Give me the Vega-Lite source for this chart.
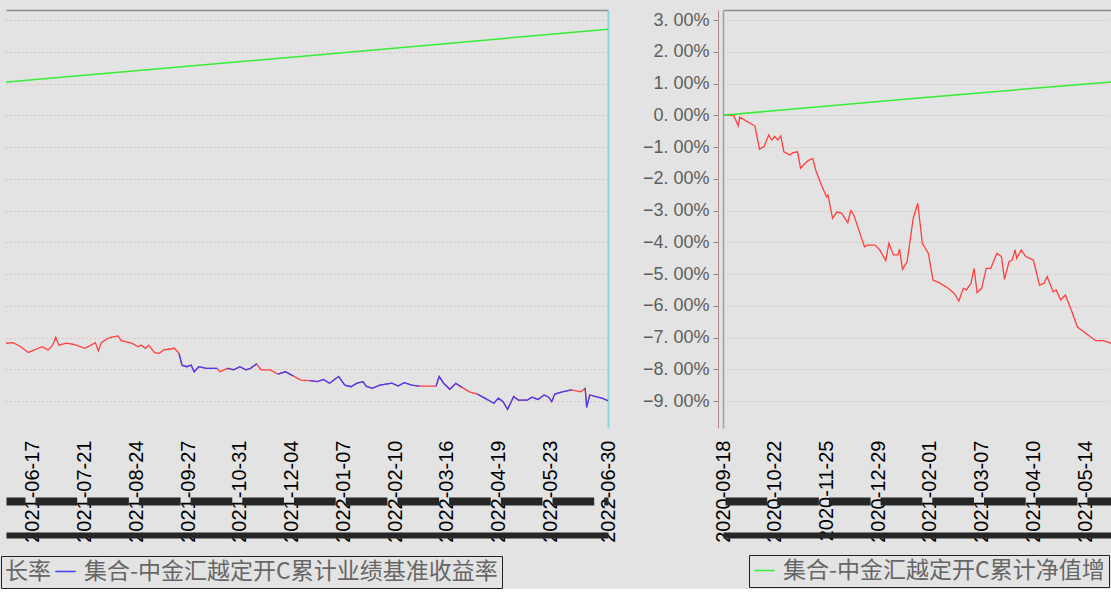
{
  "$schema": "https://vega.github.io/schema/vega-lite/v6.json",
  "background": "#e3e3e3",
  "padding": {"left": 0, "top": 10, "right": 0, "bottom": 0},
  "spacing": 115,
  "bounds": "flush",
  "config": {
    "view": {"stroke": null},
    "font": "Liberation Sans",
    "axis": {"gridColor": "#d3a6a6", "gridDash": [1, 3], "gridWidth": 1}
  },
  "data": {
    "values": [
      {"d": "2020-09-18", "s": "集合-中金汇越定开C累计净值增长率", "v": 0, "g": 0},
      {"d": "2021-01-21", "s": "集合-中金汇越定开C累计净值增长率", "v": 0.53, "g": 0},
      {"d": "2021-05-31", "s": "集合-中金汇越定开C累计净值增长率", "v": 1.05, "g": 0},
      {"d": "2021-12-21", "s": "集合-中金汇越定开C累计净值增长率", "v": 1.9, "g": 0},
      {"d": "2022-06-30", "s": "集合-中金汇越定开C累计净值增长率", "v": 2.71, "g": 0},

      {"d": "2020-09-18", "s": "集合-中金汇越定开C累计收益率", "v": 0, "g": 0},
      {"d": "2020-09-25", "s": "集合-中金汇越定开C累计收益率", "v": 0, "g": 0},
      {"d": "2020-09-28", "s": "集合-中金汇越定开C累计收益率", "v": -0.34, "g": 0},
      {"d": "2020-09-29", "s": "集合-中金汇越定开C累计收益率", "v": -0.06, "g": 0},
      {"d": "2020-10-09", "s": "集合-中金汇越定开C累计收益率", "v": -0.34, "g": 0},
      {"d": "2020-10-12", "s": "集合-中金汇越定开C累计收益率", "v": -1.07, "g": 0},
      {"d": "2020-10-15", "s": "集合-中金汇越定开C累计收益率", "v": -0.99, "g": 0},
      {"d": "2020-10-18", "s": "集合-中金汇越定开C累计收益率", "v": -0.62, "g": 0},
      {"d": "2020-10-20", "s": "集合-中金汇越定开C累计收益率", "v": -0.78, "g": 0},
      {"d": "2020-10-22", "s": "集合-中金汇越定开C累计收益率", "v": -0.67, "g": 0},
      {"d": "2020-10-24", "s": "集合-中金汇越定开C累计收益率", "v": -0.78, "g": 0},
      {"d": "2020-10-26", "s": "集合-中金汇越定开C累计收益率", "v": -0.65, "g": 0},
      {"d": "2020-10-28", "s": "集合-中金汇越定开C累计收益率", "v": -1.15, "g": 0},
      {"d": "2020-11-01", "s": "集合-中金汇越定开C累计收益率", "v": -1.25, "g": 0},
      {"d": "2020-11-03", "s": "集合-中金汇越定开C累计收益率", "v": -1.18, "g": 0},
      {"d": "2020-11-06", "s": "集合-中金汇越定开C累计收益率", "v": -1.15, "g": 0},
      {"d": "2020-11-08", "s": "集合-中金汇越定开C累计收益率", "v": -1.67, "g": 0},
      {"d": "2020-11-11", "s": "集合-中金汇越定开C累计收益率", "v": -1.51, "g": 0},
      {"d": "2020-11-13", "s": "集合-中金汇越定开C累计收益率", "v": -1.43, "g": 0},
      {"d": "2020-11-16", "s": "集合-中金汇越定开C累计收益率", "v": -1.36, "g": 0},
      {"d": "2020-11-18", "s": "集合-中金汇越定开C累计收益率", "v": -1.74, "g": 0},
      {"d": "2020-11-21", "s": "集合-中金汇越定开C累计收益率", "v": -2.12, "g": 0},
      {"d": "2020-11-25", "s": "集合-中金汇越定开C累计收益率", "v": -2.57, "g": 0},
      {"d": "2020-11-26", "s": "集合-中金汇越定开C累计收益率", "v": -2.51, "g": 0},
      {"d": "2020-11-29", "s": "集合-中金汇越定开C累计收益率", "v": -3.25, "g": 0},
      {"d": "2020-12-02", "s": "集合-中金汇越定开C累计收益率", "v": -3.04, "g": 0},
      {"d": "2020-12-05", "s": "集合-中金汇越定开C累计收益率", "v": -3.09, "g": 0},
      {"d": "2020-12-09", "s": "集合-中金汇越定开C累计收益率", "v": -3.38, "g": 0},
      {"d": "2020-12-11", "s": "集合-中金汇越定开C累计收益率", "v": -3.0, "g": 0},
      {"d": "2020-12-13", "s": "集合-中金汇越定开C累计收益率", "v": -3.14, "g": 0},
      {"d": "2020-12-17", "s": "集合-中金汇越定开C累计收益率", "v": -3.72, "g": 0},
      {"d": "2020-12-20", "s": "集合-中金汇越定开C累计收益率", "v": -4.14, "g": 0},
      {"d": "2020-12-22", "s": "集合-中金汇越定开C累计收益率", "v": -4.09, "g": 0},
      {"d": "2020-12-27", "s": "集合-中金汇越定开C累计收益率", "v": -4.09, "g": 0},
      {"d": "2020-12-30", "s": "集合-中金汇越定开C累计收益率", "v": -4.24, "g": 0},
      {"d": "2021-01-03", "s": "集合-中金汇越定开C累计收益率", "v": -4.58, "g": 0},
      {"d": "2021-01-05", "s": "集合-中金汇越定开C累计收益率", "v": -4.03, "g": 0},
      {"d": "2021-01-08", "s": "集合-中金汇越定开C累计收益率", "v": -4.4, "g": 0},
      {"d": "2021-01-11", "s": "集合-中金汇越定开C累计收益率", "v": -4.4, "g": 0},
      {"d": "2021-01-12", "s": "集合-中金汇越定开C累计收益率", "v": -4.22, "g": 0},
      {"d": "2021-01-14", "s": "集合-中金汇越定开C累计收益率", "v": -4.85, "g": 0},
      {"d": "2021-01-17", "s": "集合-中金汇越定开C累计收益率", "v": -4.61, "g": 0},
      {"d": "2021-01-21", "s": "集合-中金汇越定开C累计收益率", "v": -3.25, "g": 0},
      {"d": "2021-01-24", "s": "集合-中金汇越定开C累计收益率", "v": -2.77, "g": 0},
      {"d": "2021-01-27", "s": "集合-中金汇越定开C累计收益率", "v": -4.03, "g": 0},
      {"d": "2021-01-31", "s": "集合-中金汇越定开C累计收益率", "v": -4.35, "g": 0},
      {"d": "2021-02-03", "s": "集合-中金汇越定开C累计收益率", "v": -5.19, "g": 0},
      {"d": "2021-02-07", "s": "集合-中金汇越定开C累计收益率", "v": -5.27, "g": 0},
      {"d": "2021-02-13", "s": "集合-中金汇越定开C累计收益率", "v": -5.45, "g": 0},
      {"d": "2021-02-17", "s": "集合-中金汇越定开C累计收益率", "v": -5.61, "g": 0},
      {"d": "2021-02-20", "s": "集合-中金汇越定开C累计收益率", "v": -5.85, "g": 0},
      {"d": "2021-02-23", "s": "集合-中金汇越定开C累计收益率", "v": -5.45, "g": 0},
      {"d": "2021-02-25", "s": "集合-中金汇越定开C累计收益率", "v": -5.5, "g": 0},
      {"d": "2021-02-28", "s": "集合-中金汇越定开C累计收益率", "v": -5.29, "g": 0},
      {"d": "2021-03-02", "s": "集合-中金汇越定开C累计收益率", "v": -4.82, "g": 0},
      {"d": "2021-03-04", "s": "集合-中金汇越定开C累计收益率", "v": -5.59, "g": 0},
      {"d": "2021-03-07", "s": "集合-中金汇越定开C累计收益率", "v": -5.45, "g": 0},
      {"d": "2021-03-10", "s": "集合-中金汇越定开C累计收益率", "v": -4.82, "g": 0},
      {"d": "2021-03-13", "s": "集合-中金汇越定开C累计收益率", "v": -4.82, "g": 0},
      {"d": "2021-03-17", "s": "集合-中金汇越定开C累计收益率", "v": -4.35, "g": 0},
      {"d": "2021-03-20", "s": "集合-中金汇越定开C累计收益率", "v": -4.45, "g": 0},
      {"d": "2021-03-22", "s": "集合-中金汇越定开C累计收益率", "v": -5.17, "g": 0},
      {"d": "2021-03-25", "s": "集合-中金汇越定开C累计收益率", "v": -4.61, "g": 0},
      {"d": "2021-03-27", "s": "集合-中金汇越定开C累计收益率", "v": -4.56, "g": 0},
      {"d": "2021-03-29", "s": "集合-中金汇越定开C累计收益率", "v": -4.24, "g": 0},
      {"d": "2021-03-30", "s": "集合-中金汇越定开C累计收益率", "v": -4.51, "g": 0},
      {"d": "2021-04-02", "s": "集合-中金汇越定开C累计收益率", "v": -4.24, "g": 0},
      {"d": "2021-04-05", "s": "集合-中金汇越定开C累计收益率", "v": -4.45, "g": 0},
      {"d": "2021-04-10", "s": "集合-中金汇越定开C累计收益率", "v": -4.56, "g": 0},
      {"d": "2021-04-14", "s": "集合-中金汇越定开C累计收益率", "v": -5.35, "g": 0},
      {"d": "2021-04-17", "s": "集合-中金汇越定开C累计收益率", "v": -5.29, "g": 0},
      {"d": "2021-04-19", "s": "集合-中金汇越定开C累计收益率", "v": -5.08, "g": 0},
      {"d": "2021-04-23", "s": "集合-中金汇越定开C累计收益率", "v": -5.56, "g": 0},
      {"d": "2021-04-25", "s": "集合-中金汇越定开C累计收益率", "v": -5.5, "g": 0},
      {"d": "2021-04-27", "s": "集合-中金汇越定开C累计收益率", "v": -5.72, "g": 0},
      {"d": "2021-04-28", "s": "集合-中金汇越定开C累计收益率", "v": -5.82, "g": 0},
      {"d": "2021-05-01", "s": "集合-中金汇越定开C累计收益率", "v": -5.66, "g": 0},
      {"d": "2021-05-05", "s": "集合-中金汇越定开C累计收益率", "v": -6.15, "g": 0},
      {"d": "2021-05-09", "s": "集合-中金汇越定开C累计收益率", "v": -6.67, "g": 0},
      {"d": "2021-05-15", "s": "集合-中金汇越定开C累计收益率", "v": -6.89, "g": 0},
      {"d": "2021-05-21", "s": "集合-中金汇越定开C累计收益率", "v": -7.1, "g": 0},
      {"d": "2021-05-26", "s": "集合-中金汇越定开C累计收益率", "v": -7.1, "g": 0},
      {"d": "2021-05-31", "s": "集合-中金汇越定开C累计收益率", "v": -7.18, "g": 0},
      {"d": "2021-06-04", "s": "集合-中金汇越定开C累计收益率", "v": -7.16, "g": 0},
      {"d": "2021-06-09", "s": "集合-中金汇越定开C累计收益率", "v": -7.29, "g": 0},
      {"d": "2021-06-14", "s": "集合-中金汇越定开C累计收益率", "v": -7.47, "g": 0},
      {"d": "2021-06-18", "s": "集合-中金汇越定开C累计收益率", "v": -7.39, "g": 0},
      {"d": "2021-06-23", "s": "集合-中金汇越定开C累计收益率", "v": -7.29, "g": 0},
      {"d": "2021-06-27", "s": "集合-中金汇越定开C累计收益率", "v": -7.39, "g": 0},
      {"d": "2021-06-30", "s": "集合-中金汇越定开C累计收益率", "v": -7.24, "g": 0},
      {"d": "2021-07-02", "s": "集合-中金汇越定开C累计收益率", "v": -6.99, "g": 0},
      {"d": "2021-07-04", "s": "集合-中金汇越定开C累计收益率", "v": -7.24, "g": 0},
      {"d": "2021-07-09", "s": "集合-中金汇越定开C累计收益率", "v": -7.18, "g": 0},
      {"d": "2021-07-14", "s": "集合-中金汇越定开C累计收益率", "v": -7.22, "g": 0},
      {"d": "2021-07-21", "s": "集合-中金汇越定开C累计收益率", "v": -7.34, "g": 0},
      {"d": "2021-07-24", "s": "集合-中金汇越定开C累计收益率", "v": -7.27, "g": 0},
      {"d": "2021-07-28", "s": "集合-中金汇越定开C累计收益率", "v": -7.16, "g": 0},
      {"d": "2021-07-30", "s": "集合-中金汇越定开C累计收益率", "v": -7.42, "g": 0},
      {"d": "2021-08-01", "s": "集合-中金汇越定开C累计收益率", "v": -7.16, "g": 0},
      {"d": "2021-08-05", "s": "集合-中金汇越定开C累计收益率", "v": -7.03, "g": 0},
      {"d": "2021-08-08", "s": "集合-中金汇越定开C累计收益率", "v": -6.99, "g": 0},
      {"d": "2021-08-12", "s": "集合-中金汇越定开C累计收益率", "v": -6.95, "g": 0},
      {"d": "2021-08-14", "s": "集合-中金汇越定开C累计收益率", "v": -7.1, "g": 0},
      {"d": "2021-08-21", "s": "集合-中金汇越定开C累计收益率", "v": -7.18, "g": 0},
      {"d": "2021-08-25", "s": "集合-中金汇越定开C累计收益率", "v": -7.29, "g": 0},
      {"d": "2021-08-27", "s": "集合-中金汇越定开C累计收益率", "v": -7.24, "g": 0},
      {"d": "2021-08-30", "s": "集合-中金汇越定开C累计收益率", "v": -7.34, "g": 0},
      {"d": "2021-09-01", "s": "集合-中金汇越定开C累计收益率", "v": -7.24, "g": 0},
      {"d": "2021-09-05", "s": "集合-中金汇越定开C累计收益率", "v": -7.48, "g": 0},
      {"d": "2021-09-08", "s": "集合-中金汇越定开C累计收益率", "v": -7.5, "g": 0},
      {"d": "2021-09-11", "s": "集合-中金汇越定开C累计收益率", "v": -7.39, "g": 0},
      {"d": "2021-09-14", "s": "集合-中金汇越定开C累计收益率", "v": -7.37, "g": 0},
      {"d": "2021-09-18", "s": "集合-中金汇越定开C累计收益率", "v": -7.34, "g": 0},
      {"d": "2021-09-21", "s": "集合-中金汇越定开C累计收益率", "v": -7.5, "g": 0},
      {"d": "2021-09-23", "s": "集合-中金汇越定开C累计收益率", "v": -7.87, "g": 0},
      {"d": "2021-09-26", "s": "集合-中金汇越定开C累计收益率", "v": -7.92, "g": 0},
      {"d": "2021-09-29", "s": "集合-中金汇越定开C累计收益率", "v": -7.87, "g": 0},
      {"d": "2021-10-01", "s": "集合-中金汇越定开C累计收益率", "v": -8.08, "g": 0},
      {"d": "2021-10-04", "s": "集合-中金汇越定开C累计收益率", "v": -7.92, "g": 0},
      {"d": "2021-10-09", "s": "集合-中金汇越定开C累计收益率", "v": -7.97, "g": 0},
      {"d": "2021-10-16", "s": "集合-中金汇越定开C累计收益率", "v": -7.97, "g": 0},
      {"d": "2021-10-18", "s": "集合-中金汇越定开C累计收益率", "v": -8.08, "g": 0},
      {"d": "2021-10-23", "s": "集合-中金汇越定开C累计收益率", "v": -7.97, "g": 0},
      {"d": "2021-10-27", "s": "集合-中金汇越定开C累计收益率", "v": -8.02, "g": 0},
      {"d": "2021-10-31", "s": "集合-中金汇越定开C累计收益率", "v": -7.92, "g": 0},
      {"d": "2021-11-04", "s": "集合-中金汇越定开C累计收益率", "v": -8.02, "g": 0},
      {"d": "2021-11-07", "s": "集合-中金汇越定开C累计收益率", "v": -7.97, "g": 0},
      {"d": "2021-11-11", "s": "集合-中金汇越定开C累计收益率", "v": -7.83, "g": 0},
      {"d": "2021-11-14", "s": "集合-中金汇越定开C累计收益率", "v": -8.02, "g": 0},
      {"d": "2021-11-20", "s": "集合-中金汇越定开C累计收益率", "v": -8.02, "g": 0},
      {"d": "2021-11-25", "s": "集合-中金汇越定开C累计收益率", "v": -8.15, "g": 0},
      {"d": "2021-11-30", "s": "集合-中金汇越定开C累计收益率", "v": -8.08, "g": 0},
      {"d": "2021-12-05", "s": "集合-中金汇越定开C累计收益率", "v": -8.21, "g": 0},
      {"d": "2021-12-10", "s": "集合-中金汇越定开C累计收益率", "v": -8.34, "g": 0},
      {"d": "2021-12-16", "s": "集合-中金汇越定开C累计收益率", "v": -8.36, "g": 0},
      {"d": "2021-12-21", "s": "集合-中金汇越定开C累计收益率", "v": -8.39, "g": 0},
      {"d": "2021-12-25", "s": "集合-中金汇越定开C累计收益率", "v": -8.32, "g": 0},
      {"d": "2021-12-29", "s": "集合-中金汇越定开C累计收益率", "v": -8.44, "g": 0},
      {"d": "2022-01-02", "s": "集合-中金汇越定开C累计收益率", "v": -8.29, "g": 0},
      {"d": "2022-01-04", "s": "集合-中金汇越定开C累计收益率", "v": -8.23, "g": 0},
      {"d": "2022-01-08", "s": "集合-中金汇越定开C累计收益率", "v": -8.5, "g": 0},
      {"d": "2022-01-12", "s": "集合-中金汇越定开C累计收益率", "v": -8.55, "g": 0},
      {"d": "2022-01-16", "s": "集合-中金汇越定开C累计收益率", "v": -8.44, "g": 0},
      {"d": "2022-01-20", "s": "集合-中金汇越定开C累计收益率", "v": -8.39, "g": 0},
      {"d": "2022-01-22", "s": "集合-中金汇越定开C累计收益率", "v": -8.53, "g": 0},
      {"d": "2022-01-26", "s": "集合-中金汇越定开C累计收益率", "v": -8.6, "g": 0},
      {"d": "2022-01-31", "s": "集合-中金汇越定开C累计收益率", "v": -8.5, "g": 0},
      {"d": "2022-02-08", "s": "集合-中金汇越定开C累计收益率", "v": -8.44, "g": 0},
      {"d": "2022-02-12", "s": "集合-中金汇越定开C累计收益率", "v": -8.53, "g": 0},
      {"d": "2022-02-16", "s": "集合-中金汇越定开C累计收益率", "v": -8.42, "g": 0},
      {"d": "2022-02-21", "s": "集合-中金汇越定开C累计收益率", "v": -8.5, "g": 0},
      {"d": "2022-02-26", "s": "集合-中金汇越定开C累计收益率", "v": -8.53, "g": 0},
      {"d": "2022-03-04", "s": "集合-中金汇越定开C累计收益率", "v": -8.53, "g": 0},
      {"d": "2022-03-09", "s": "集合-中金汇越定开C累计收益率", "v": -8.53, "g": 0},
      {"d": "2022-03-11", "s": "集合-中金汇越定开C累计收益率", "v": -8.23, "g": 0},
      {"d": "2022-03-14", "s": "集合-中金汇越定开C累计收益率", "v": -8.44, "g": 0},
      {"d": "2022-03-18", "s": "集合-中金汇越定开C累计收益率", "v": -8.63, "g": 0},
      {"d": "2022-03-22", "s": "集合-中金汇越定开C累计收益率", "v": -8.44, "g": 0},
      {"d": "2022-03-26", "s": "集合-中金汇越定开C累计收益率", "v": -8.57, "g": 0},
      {"d": "2022-03-31", "s": "集合-中金汇越定开C累计收益率", "v": -8.71, "g": 0},
      {"d": "2022-04-05", "s": "集合-中金汇越定开C累计收益率", "v": -8.78, "g": 0},
      {"d": "2022-04-10", "s": "集合-中金汇越定开C累计收益率", "v": -8.91, "g": 0},
      {"d": "2022-04-16", "s": "集合-中金汇越定开C累计收益率", "v": -9.07, "g": 0},
      {"d": "2022-04-19", "s": "集合-中金汇越定开C累计收益率", "v": -8.91, "g": 0},
      {"d": "2022-04-22", "s": "集合-中金汇越定开C累计收益率", "v": -9.02, "g": 0},
      {"d": "2022-04-25", "s": "集合-中金汇越定开C累计收益率", "v": -9.26, "g": 0},
      {"d": "2022-04-29", "s": "集合-中金汇越定开C累计收益率", "v": -8.86, "g": 0},
      {"d": "2022-05-02", "s": "集合-中金汇越定开C累计收益率", "v": -8.97, "g": 0},
      {"d": "2022-05-08", "s": "集合-中金汇越定开C累计收益率", "v": -8.97, "g": 0},
      {"d": "2022-05-11", "s": "集合-中金汇越定开C累计收益率", "v": -8.88, "g": 0},
      {"d": "2022-05-15", "s": "集合-中金汇越定开C累计收益率", "v": -8.95, "g": 0},
      {"d": "2022-05-19", "s": "集合-中金汇越定开C累计收益率", "v": -8.81, "g": 0},
      {"d": "2022-05-22", "s": "集合-中金汇越定开C累计收益率", "v": -8.88, "g": 0},
      {"d": "2022-05-24", "s": "集合-中金汇越定开C累计收益率", "v": -9.02, "g": 0},
      {"d": "2022-05-26", "s": "集合-中金汇越定开C累计收益率", "v": -8.78, "g": 0},
      {"d": "2022-05-31", "s": "集合-中金汇越定开C累计收益率", "v": -8.71, "g": 0},
      {"d": "2022-06-06", "s": "集合-中金汇越定开C累计收益率", "v": -8.65, "g": 0},
      {"d": "2022-06-12", "s": "集合-中金汇越定开C累计收益率", "v": -8.71, "g": 0},
      {"d": "2022-06-15", "s": "集合-中金汇越定开C累计收益率", "v": -8.6, "g": 0},
      {"d": "2022-06-16", "s": "集合-中金汇越定开C累计收益率", "v": -9.2, "g": 0},
      {"d": "2022-06-18", "s": "集合-中金汇越定开C累计收益率", "v": -8.81, "g": 0},
      {"d": "2022-06-22", "s": "集合-中金汇越定开C累计收益率", "v": -8.86, "g": 0},
      {"d": "2022-06-26", "s": "集合-中金汇越定开C累计收益率", "v": -8.91, "g": 0},
      {"d": "2022-06-30", "s": "集合-中金汇越定开C累计收益率", "v": -8.99, "g": 0},

      {"d": "2021-09-21", "s": "集合-中金汇越定开C累计业绩基准收益率", "v": -7.5, "g": 1},
      {"d": "2021-09-23", "s": "集合-中金汇越定开C累计业绩基准收益率", "v": -7.87, "g": 1},
      {"d": "2021-09-26", "s": "集合-中金汇越定开C累计业绩基准收益率", "v": -7.92, "g": 1},
      {"d": "2021-09-29", "s": "集合-中金汇越定开C累计业绩基准收益率", "v": -7.87, "g": 1},
      {"d": "2021-10-01", "s": "集合-中金汇越定开C累计业绩基准收益率", "v": -8.08, "g": 1},
      {"d": "2021-10-04", "s": "集合-中金汇越定开C累计业绩基准收益率", "v": -7.92, "g": 1},
      {"d": "2021-10-09", "s": "集合-中金汇越定开C累计业绩基准收益率", "v": -7.97, "g": 1},
      {"d": "2021-10-16", "s": "集合-中金汇越定开C累计业绩基准收益率", "v": -7.97, "g": 1},
      {"d": "2021-10-23", "s": "集合-中金汇越定开C累计业绩基准收益率", "v": -7.97, "g": 2},
      {"d": "2021-10-27", "s": "集合-中金汇越定开C累计业绩基准收益率", "v": -8.02, "g": 2},
      {"d": "2021-10-31", "s": "集合-中金汇越定开C累计业绩基准收益率", "v": -7.92, "g": 2},
      {"d": "2021-11-04", "s": "集合-中金汇越定开C累计业绩基准收益率", "v": -8.02, "g": 2},
      {"d": "2021-11-07", "s": "集合-中金汇越定开C累计业绩基准收益率", "v": -7.97, "g": 2},
      {"d": "2021-11-11", "s": "集合-中金汇越定开C累计业绩基准收益率", "v": -7.83, "g": 2},
      {"d": "2021-11-25", "s": "集合-中金汇越定开C累计业绩基准收益率", "v": -8.15, "g": 3},
      {"d": "2021-11-30", "s": "集合-中金汇越定开C累计业绩基准收益率", "v": -8.08, "g": 3},
      {"d": "2021-12-05", "s": "集合-中金汇越定开C累计业绩基准收益率", "v": -8.21, "g": 3},
      {"d": "2021-12-16", "s": "集合-中金汇越定开C累计业绩基准收益率", "v": -8.36, "g": 4},
      {"d": "2021-12-21", "s": "集合-中金汇越定开C累计业绩基准收益率", "v": -8.39, "g": 4},
      {"d": "2021-12-25", "s": "集合-中金汇越定开C累计业绩基准收益率", "v": -8.32, "g": 4},
      {"d": "2021-12-29", "s": "集合-中金汇越定开C累计业绩基准收益率", "v": -8.44, "g": 4},
      {"d": "2022-01-02", "s": "集合-中金汇越定开C累计业绩基准收益率", "v": -8.29, "g": 4},
      {"d": "2022-01-04", "s": "集合-中金汇越定开C累计业绩基准收益率", "v": -8.23, "g": 4},
      {"d": "2022-01-08", "s": "集合-中金汇越定开C累计业绩基准收益率", "v": -8.5, "g": 4},
      {"d": "2022-01-12", "s": "集合-中金汇越定开C累计业绩基准收益率", "v": -8.55, "g": 4},
      {"d": "2022-01-16", "s": "集合-中金汇越定开C累计业绩基准收益率", "v": -8.44, "g": 4},
      {"d": "2022-01-20", "s": "集合-中金汇越定开C累计业绩基准收益率", "v": -8.39, "g": 4},
      {"d": "2022-01-22", "s": "集合-中金汇越定开C累计业绩基准收益率", "v": -8.53, "g": 4},
      {"d": "2022-01-26", "s": "集合-中金汇越定开C累计业绩基准收益率", "v": -8.6, "g": 4},
      {"d": "2022-01-31", "s": "集合-中金汇越定开C累计业绩基准收益率", "v": -8.5, "g": 4},
      {"d": "2022-02-08", "s": "集合-中金汇越定开C累计业绩基准收益率", "v": -8.44, "g": 4},
      {"d": "2022-02-12", "s": "集合-中金汇越定开C累计业绩基准收益率", "v": -8.53, "g": 4},
      {"d": "2022-02-16", "s": "集合-中金汇越定开C累计业绩基准收益率", "v": -8.42, "g": 4},
      {"d": "2022-02-21", "s": "集合-中金汇越定开C累计业绩基准收益率", "v": -8.5, "g": 4},
      {"d": "2022-02-26", "s": "集合-中金汇越定开C累计业绩基准收益率", "v": -8.53, "g": 4},
      {"d": "2022-03-09", "s": "集合-中金汇越定开C累计业绩基准收益率", "v": -8.53, "g": 5},
      {"d": "2022-03-11", "s": "集合-中金汇越定开C累计业绩基准收益率", "v": -8.23, "g": 5},
      {"d": "2022-03-14", "s": "集合-中金汇越定开C累计业绩基准收益率", "v": -8.44, "g": 5},
      {"d": "2022-03-18", "s": "集合-中金汇越定开C累计业绩基准收益率", "v": -8.63, "g": 5},
      {"d": "2022-03-22", "s": "集合-中金汇越定开C累计业绩基准收益率", "v": -8.44, "g": 5},
      {"d": "2022-03-26", "s": "集合-中金汇越定开C累计业绩基准收益率", "v": -8.57, "g": 5},
      {"d": "2022-04-05", "s": "集合-中金汇越定开C累计业绩基准收益率", "v": -8.78, "g": 6},
      {"d": "2022-04-10", "s": "集合-中金汇越定开C累计业绩基准收益率", "v": -8.91, "g": 6},
      {"d": "2022-04-16", "s": "集合-中金汇越定开C累计业绩基准收益率", "v": -9.07, "g": 6},
      {"d": "2022-04-19", "s": "集合-中金汇越定开C累计业绩基准收益率", "v": -8.91, "g": 6},
      {"d": "2022-04-22", "s": "集合-中金汇越定开C累计业绩基准收益率", "v": -9.02, "g": 6},
      {"d": "2022-04-25", "s": "集合-中金汇越定开C累计业绩基准收益率", "v": -9.26, "g": 6},
      {"d": "2022-04-29", "s": "集合-中金汇越定开C累计业绩基准收益率", "v": -8.86, "g": 6},
      {"d": "2022-05-02", "s": "集合-中金汇越定开C累计业绩基准收益率", "v": -8.97, "g": 6},
      {"d": "2022-05-08", "s": "集合-中金汇越定开C累计业绩基准收益率", "v": -8.97, "g": 6},
      {"d": "2022-05-11", "s": "集合-中金汇越定开C累计业绩基准收益率", "v": -8.88, "g": 6},
      {"d": "2022-05-15", "s": "集合-中金汇越定开C累计业绩基准收益率", "v": -8.95, "g": 6},
      {"d": "2022-05-19", "s": "集合-中金汇越定开C累计业绩基准收益率", "v": -8.81, "g": 6},
      {"d": "2022-05-22", "s": "集合-中金汇越定开C累计业绩基准收益率", "v": -8.88, "g": 6},
      {"d": "2022-05-24", "s": "集合-中金汇越定开C累计业绩基准收益率", "v": -9.02, "g": 6},
      {"d": "2022-05-26", "s": "集合-中金汇越定开C累计业绩基准收益率", "v": -8.78, "g": 6},
      {"d": "2022-05-31", "s": "集合-中金汇越定开C累计业绩基准收益率", "v": -8.71, "g": 6},
      {"d": "2022-06-06", "s": "集合-中金汇越定开C累计业绩基准收益率", "v": -8.65, "g": 6},
      {"d": "2022-06-15", "s": "集合-中金汇越定开C累计业绩基准收益率", "v": -8.6, "g": 7},
      {"d": "2022-06-16", "s": "集合-中金汇越定开C累计业绩基准收益率", "v": -9.2, "g": 7},
      {"d": "2022-06-18", "s": "集合-中金汇越定开C累计业绩基准收益率", "v": -8.81, "g": 7},
      {"d": "2022-06-22", "s": "集合-中金汇越定开C累计业绩基准收益率", "v": -8.86, "g": 7},
      {"d": "2022-06-26", "s": "集合-中金汇越定开C累计业绩基准收益率", "v": -8.91, "g": 7},
      {"d": "2022-06-30", "s": "集合-中金汇越定开C累计业绩基准收益率", "v": -8.99, "g": 7}
    ]
  },
  "resolve": {
    "scale": {"x": "independent", "y": "independent", "color": "independent"},
    "legend": {"color": "independent"}
  },
  "hconcat": [
    {
      "width": 602,
      "height": 418,
      "resolve": {"axis": {"x": "independent", "y": "independent"}},
      "layer": [
        {
          "transform": [{"filter": {"field": "s", "equal": "集合-中金汇越定开C累计收益率"}}],
          "mark": {"type": "line", "clip": true, "strokeWidth": 1.3},
          "encoding": {
            "x": {
              "field": "d", "type": "temporal",
              "scale": {"type": "utc", "domain": [{"year": 2021, "month": 5, "date": 30, "hours": 7, "utc": true}, {"year": 2022, "month": 6, "date": 30, "utc": true}]},
              "axis": {
                "orient": "bottom", "title": null, "format": "%Y-%m-%d", "labelAngle": -90,
                "labelFontSize": 20, "labelColor": "#000000", "labelPadding": 12,
                "ticks": false, "domain": false, "grid": false, "labelOverlap": false, "labelFlush": false,
                "values": [
                  {"year": 2021, "month": 6, "date": 17, "utc": true},
                  {"year": 2021, "month": 7, "date": 21, "utc": true},
                  {"year": 2021, "month": 8, "date": 24, "utc": true},
                  {"year": 2021, "month": 9, "date": 27, "utc": true},
                  {"year": 2021, "month": 10, "date": 31, "utc": true},
                  {"year": 2021, "month": 12, "date": 4, "utc": true},
                  {"year": 2022, "month": 1, "date": 7, "utc": true},
                  {"year": 2022, "month": 2, "date": 10, "utc": true},
                  {"year": 2022, "month": 3, "date": 16, "utc": true},
                  {"year": 2022, "month": 4, "date": 19, "utc": true},
                  {"year": 2022, "month": 5, "date": 23, "utc": true},
                  {"year": 2022, "month": 6, "date": 30, "utc": true}
                ]
              }
            },
            "y": {
              "field": "v", "type": "quantitative",
              "scale": {"domain": [-9.85, 3.315], "nice": false, "zero": false},
              "axis": {"title": null, "labels": false, "ticks": false, "domain": false, "grid": true, "values": [-9, -8, -7, -6, -5, -4, -3, -2, -1, 0, 1, 2, 3]}
            },
            "color": {
              "field": "s", "type": "nominal",
              "scale": {"domain": ["集合-中金汇越定开C累计收益率", "集合-中金汇越定开C累计净值增长率", "集合-中金汇越定开C累计业绩基准收益率"], "range": ["#ff4040", "#33ee33", "#4040ff"]},
              "legend": {
                "orient": "none", "legendX": -5, "legendY": 546, "direction": "horizontal",
                "values": ["集合-中金汇越定开C累计业绩基准收益率"],
                "title": "长率", "titleOrient": "left", "titleFont": "Noto Sans CJK SC", "titleFontSize": 23, "titleFontWeight": "normal", "titleColor": "#666666", "titlePadding": 3,
                "labelFont": "Noto Sans CJK SC", "labelFontSize": 23, "labelColor": "#666666", "labelOffset": 7, "labelLimit": 700,
                "symbolType": "stroke", "symbolSize": 420, "symbolStrokeWidth": 1.5,
                "strokeColor": "#222222", "padding": 4,
                "encode": {"title": {"update": {"angle": {"value": 0}, "align": {"value": "left"}, "baseline": {"value": "middle"}}}}
              }
            }
          }
        },
        {
          "transform": [{"filter": {"field": "s", "equal": "集合-中金汇越定开C累计业绩基准收益率"}}],
          "mark": {"type": "line", "clip": true, "strokeWidth": 1.3},
          "encoding": {
            "x": {
              "field": "d", "type": "temporal",
              "scale": {"type": "utc", "domain": [{"year": 2021, "month": 5, "date": 30, "hours": 7, "utc": true}, {"year": 2022, "month": 6, "date": 30, "utc": true}]},
              "axis": {"orient": "top", "title": null, "labels": false, "ticks": false, "grid": false, "domain": true, "domainColor": "#8c8c8c", "domainWidth": 1.5}
            },
            "y": {
              "field": "v", "type": "quantitative",
              "scale": {"domain": [-9.85, 3.315], "nice": false, "zero": false},
              "axis": {"orient": "right", "title": null, "labels": false, "ticks": false, "grid": false, "domain": true, "domainColor": "#86dadd", "domainWidth": 2}
            },
            "detail": {"field": "g", "type": "nominal"},
            "color": {
              "field": "s", "type": "nominal",
              "scale": {"domain": ["集合-中金汇越定开C累计收益率", "集合-中金汇越定开C累计净值增长率", "集合-中金汇越定开C累计业绩基准收益率"], "range": ["#ff4040", "#33ee33", "#4040ff"]}
            }
          }
        },
        {
          "transform": [{"filter": {"field": "s", "equal": "集合-中金汇越定开C累计净值增长率"}}],
          "mark": {"type": "line", "clip": true, "strokeWidth": 1.5},
          "encoding": {
            "x": {"field": "d", "type": "temporal",
              "axis": {"orient": "bottom", "offset": 73, "title": null, "labels": false, "ticks": false, "grid": false, "domain": true, "domainColor": "#262626", "domainWidth": 8, "domainDash": [41.7, 10], "domainDashOffset": 22.7}},
            "y": {"field": "v", "type": "quantitative", "axis": null},
            "color": {"field": "s", "type": "nominal"}
          }
        },
        {
          "transform": [{"filter": {"field": "s", "equal": "集合-中金汇越定开C累计净值增长率"}}],
          "mark": {"type": "line", "clip": true, "opacity": 0},
          "encoding": {
            "x": {"field": "d", "type": "temporal",
              "axis": {"orient": "bottom", "offset": 107, "title": null, "labels": false, "ticks": false, "grid": false, "domain": true, "domainColor": "#262626", "domainWidth": 6}},
            "y": {"field": "v", "type": "quantitative", "axis": null},
            "color": {"field": "s", "type": "nominal"}
          }
        }
      ]
    },
    {
      "width": 388,
      "height": 418,
      "resolve": {"axis": {"x": "independent", "y": "independent"}},
      "layer": [
        {
          "transform": [{"filter": {"field": "s", "equal": "集合-中金汇越定开C累计收益率"}}],
          "mark": {"type": "line", "clip": true, "strokeWidth": 1.3},
          "encoding": {
            "x": {
              "field": "d", "type": "temporal",
              "scale": {"type": "utc", "domain": [{"year": 2020, "month": 9, "date": 18, "utc": true}, {"year": 2021, "month": 5, "date": 31, "utc": true}]},
              "axis": {
                "orient": "bottom", "title": null, "format": "%Y-%m-%d", "labelAngle": -90,
                "labelFontSize": 20, "labelColor": "#000000", "labelPadding": 12,
                "ticks": false, "domain": false, "grid": false, "labelOverlap": false, "labelFlush": false,
                "values": [
                  {"year": 2020, "month": 9, "date": 18, "utc": true},
                  {"year": 2020, "month": 10, "date": 22, "utc": true},
                  {"year": 2020, "month": 11, "date": 25, "utc": true},
                  {"year": 2020, "month": 12, "date": 29, "utc": true},
                  {"year": 2021, "month": 2, "date": 1, "utc": true},
                  {"year": 2021, "month": 3, "date": 7, "utc": true},
                  {"year": 2021, "month": 4, "date": 10, "utc": true},
                  {"year": 2021, "month": 5, "date": 14, "utc": true}
                ]
              }
            },
            "y": {
              "field": "v", "type": "quantitative",
              "scale": {"domain": [-9.85, 3.315], "nice": false, "zero": false},
              "axis": {
                "title": null, "orient": "left", "offset": 5, "grid": true,
                "values": [-9, -8, -7, -6, -5, -4, -3, -2, -1, 0, 1, 2, 3],
                "labelExpr": "replace(format(datum.value / 100, '.2%'), '.', '. ')",
                "labelFontSize": 18, "labelColor": "#5e5e5e", "labelPadding": 4,
                "tickSize": 5, "tickColor": "#8a8a8a", "domainColor": "#b08a8a", "domainWidth": 1
              }
            },
            "color": {
              "field": "s", "type": "nominal",
              "scale": {"domain": ["集合-中金汇越定开C累计收益率", "集合-中金汇越定开C累计净值增长率", "集合-中金汇越定开C累计业绩基准收益率"], "range": ["#ff4040", "#33ee33", "#4040ff"]},
              "legend": {
                "orient": "none", "legendX": 26, "legendY": 545, "direction": "horizontal",
                "values": ["集合-中金汇越定开C累计净值增长率"],
                "title": null,
                "labelExpr": "'集合-中金汇越定开C累计净值增'",
                "labelFont": "Noto Sans CJK SC", "labelFontSize": 23, "labelColor": "#666666", "labelOffset": 7, "labelLimit": 400,
                "symbolType": "stroke", "symbolSize": 420, "symbolStrokeWidth": 1.5,
                "strokeColor": "#222222", "padding": 4
              }
            }
          }
        },
        {
          "transform": [{"filter": {"field": "s", "equal": "集合-中金汇越定开C累计净值增长率"}}],
          "mark": {"type": "line", "clip": true, "strokeWidth": 1.5},
          "encoding": {
            "x": {
              "field": "d", "type": "temporal",
              "scale": {"type": "utc", "domain": [{"year": 2020, "month": 9, "date": 18, "utc": true}, {"year": 2021, "month": 5, "date": 31, "utc": true}]},
              "axis": {"orient": "top", "title": null, "labels": false, "ticks": false, "grid": false, "domain": true, "domainColor": "#8c8c8c", "domainWidth": 1.5}
            },
            "y": {
              "field": "v", "type": "quantitative",
              "scale": {"domain": [-9.85, 3.315], "nice": false, "zero": false},
              "axis": {"orient": "left", "title": null, "labels": false, "ticks": false, "grid": false, "domain": true, "domainColor": "#8fa9aa", "domainWidth": 1.5}
            },
            "color": {
              "field": "s", "type": "nominal",
              "scale": {"domain": ["集合-中金汇越定开C累计收益率", "集合-中金汇越定开C累计净值增长率", "集合-中金汇越定开C累计业绩基准收益率"], "range": ["#ff4040", "#33ee33", "#4040ff"]}
            }
          }
        },
        {
          "transform": [{"filter": {"field": "s", "equal": "集合-中金汇越定开C累计净值增长率"}}],
          "mark": {"type": "line", "clip": true, "opacity": 0},
          "encoding": {
            "x": {"field": "d", "type": "temporal",
              "axis": {"orient": "bottom", "offset": 73, "title": null, "labels": false, "ticks": false, "grid": false, "domain": true, "domainColor": "#262626", "domainWidth": 8, "domainDash": [41.7, 10], "domainDashOffset": 49.7}},
            "y": {"field": "v", "type": "quantitative", "axis": null},
            "color": {"field": "s", "type": "nominal"}
          }
        },
        {
          "transform": [{"filter": {"field": "s", "equal": "集合-中金汇越定开C累计净值增长率"}}],
          "mark": {"type": "line", "clip": true, "opacity": 0},
          "encoding": {
            "x": {"field": "d", "type": "temporal",
              "axis": {"orient": "bottom", "offset": 107, "title": null, "labels": false, "ticks": false, "grid": false, "domain": true, "domainColor": "#262626", "domainWidth": 6}},
            "y": {"field": "v", "type": "quantitative", "axis": null},
            "color": {"field": "s", "type": "nominal"}
          }
        }
      ]
    }
  ]
}
